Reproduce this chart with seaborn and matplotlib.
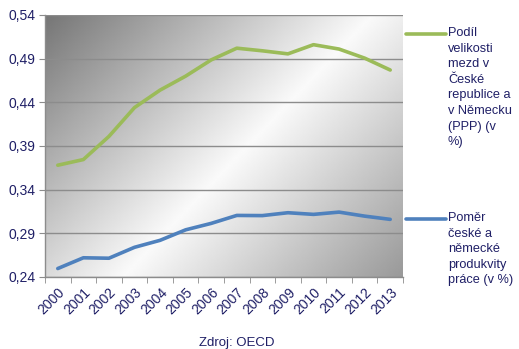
import matplotlib
matplotlib.use("Agg")
import matplotlib.pyplot as plt
import numpy as np
import pandas as pd
import seaborn as sns
from matplotlib.lines import Line2D
from matplotlib.ticker import FuncFormatter

years = [str(y) for y in range(2000, 2014)]
wage_share = [0.368, 0.3745, 0.401, 0.434, 0.454, 0.470, 0.4886, 0.502,
              0.499, 0.4955, 0.506, 0.501, 0.4906, 0.477]
productivity = [0.2497, 0.262, 0.2615, 0.274, 0.282, 0.294, 0.3014, 0.3105,
                0.3103, 0.3136, 0.3117, 0.3143, 0.3097, 0.306]
label_wage = "Podíl\nvelikosti\nmezd v\nČeské\nrepublice a\nv Německu\n(PPP) (v\n%)"
label_prod = "Poměr\nčeské a\nněmecké\nprodukvity\npráce (v %)"
y_ticks = [0.24, 0.29, 0.34, 0.39, 0.44, 0.49, 0.54]

green = "#9bbb59"
blue = "#4f81bd"
navy = "#1f1f66"

sns.set_style("white")
plt.rcParams["font.family"] = ["Liberation Sans", "DejaVu Sans"]

df = pd.DataFrame({"pos": range(len(years)), "wage": wage_share, "prod": productivity})

fig = plt.figure(figsize=(5.19, 3.49), dpi=100)
ax = fig.add_axes([45 / 519, 1 - 277 / 349, 358 / 519, 262 / 349])

# diagonal grey gradient background
u, v = np.meshgrid(np.linspace(0, 1, 300), np.linspace(1, 0, 300))
s = (u + 0.7 * (1 - v)) / 1.7
grad = np.interp(s, [0, 0.54, 1], [0.46, 0.98, 0.6])
ax.imshow(grad, cmap="gray", vmin=0, vmax=1, extent=[0, 1, 0, 1],
          transform=ax.transAxes, aspect="auto", zorder=0)

sns.lineplot(data=df, x="pos", y="wage", color=green, linewidth=2.6, ax=ax, zorder=3)
sns.lineplot(data=df, x="pos", y="prod", color=blue, linewidth=2.6, ax=ax, zorder=3)

ax.set_xlim(-0.5, len(years) - 0.5)
ax.set_ylim(0.24, 0.54)
ax.set_yticks(y_ticks)
ax.yaxis.set_major_formatter(FuncFormatter(lambda x, p: f"{x:.2f}".replace(".", ",")))
ax.set_xticks(range(len(years)))
ax.set_xticklabels(years, rotation=45, ha="right", rotation_mode="anchor")
ax.set_xticks(np.arange(-0.5, len(years)), minor=True)
ax.tick_params(axis="x", which="major", length=0, pad=6, labelsize=10, labelcolor=navy)
ax.tick_params(axis="x", which="minor", length=4, color="#8c8c8c", direction="out", bottom=True)
ax.tick_params(axis="y", length=4, color="#8c8c8c", direction="out", left=True,
               labelsize=10, labelcolor=navy, pad=3)
ax.set_xlabel("")
ax.set_ylabel("")
ax.grid(axis="y", color="#8c8c8c", linewidth=1)
ax.set_axisbelow(False)
for side in ["top", "right"]:
    ax.spines[side].set_visible(False)
for side in ["left", "bottom"]:
    ax.spines[side].set_color("#8c8c8c")
    ax.spines[side].set_linewidth(1)
for gl in ax.get_ygridlines():
    gl.set_zorder(1)

# legend drawn beside the plot
def px(x, y):
    return x / 519, 1 - y / 349

for color, ly, ty, text in [(green, 34, 27, label_wage), (blue, 219, 212, label_prod)]:
    x0, y0 = px(406, ly)
    x1, _ = px(446, ly)
    fig.add_artist(Line2D([x0, x1], [y0, y0], color=color, linewidth=2.6,
                          transform=fig.transFigure))
    tx, tyf = px(448, ty)
    fig.text(tx, tyf, text, fontsize=9.2, color=navy, va="top", ha="left", linespacing=1.4)

fig.text(237 / 519, 1 - 343 / 349, "Zdroj: OECD", fontsize=9.5, color=navy,
         ha="center", va="center")

fig.savefig("out.png", dpi=100)
